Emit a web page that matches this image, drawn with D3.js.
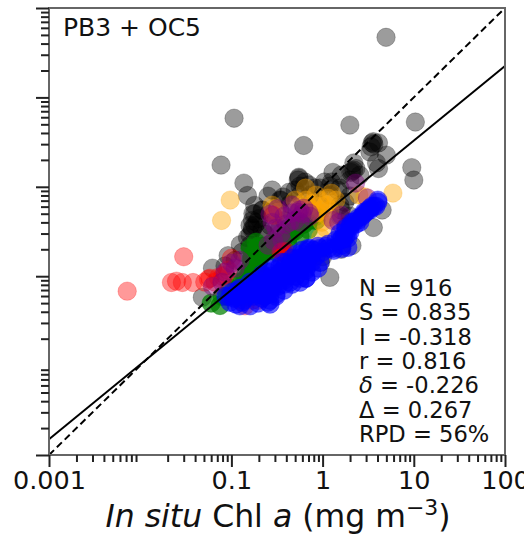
<!DOCTYPE html>
<html>
<head>
<meta charset="utf-8">
<script src="https://cdn.jsdelivr.net/npm/d3@7/dist/d3.min.js"></script>
<style>
  html, body { margin: 0; padding: 0; background: #fff; overflow: hidden; }
  text { font-family: "DejaVu Sans", sans-serif; fill: #111; }
</style>
</head>
<body>
<svg id="chart" width="524" height="534"></svg>
<script>
// values as [in situ, modelled], mg m-3
const blackPoints = [
  [4.96,47],[1.99,4.9],[10.4,5.3],[0.62,2.9],[0.107,5.85],[0.077,1.75],[0.137,1.1],[0.15,0.8],[0.18,0.5],
  [9.5,1.64],[10,1.19],[5,2.26],[4.1,1.6],[3.9,1.85],[3.5,3.1],[4.1,3.1],[3.3,2.45],[3.6,3.2],[3.4,2.8],[3.65,3],
  [2.2,1.85],[2.2,1.54],[2.05,1.45],[2.56,1.35],[1.3,1.45],[1.6,1.35],[1.25,1.13],[1.05,1.13],[0.55,1.28],[0.54,1.19],
  [0.71,1.05],[0.82,0.97],[0.93,0.97],[0.28,0.92],[0.43,0.87],[0.37,0.77],[0.35,0.71],[1.6,0.55],[4.5,0.55],[3.6,0.35],
  [2.1,0.22],[1,0.165],[1.2,0.097],[0.95,0.143],[1.6,0.2],[0.048,0.058],[0.062,0.123],[0.092,0.17],[0.125,0.225],[0.15,0.27],
  [0.172,0.5],[0.17,0.42],[0.17,0.345],[0.18,0.37],[0.16,0.29],[0.18,0.62],[0.2,0.44],[0.16,0.37],[0.17,0.33],[0.19,0.4],
  [0.22,0.55],[0.565,1.02],[0.64,1.13],[1.2,1.02],[1.55,0.97],[2,0.79],[0.265,0.37],[0.217,0.216],
  [0.38,0.42],[0.565,0.47],[0.935,0.62],[1.55,0.62],[2,0.47],[1.8,0.36],[0.34,0.71],[0.5,0.92],[0.11,0.151],[0.085,0.13],
  [0.252,0.786],[0.565,0.807],[0.727,0.807],[1.2,0.807],[1.47,0.917],[1.99,1.19],[0.55,1.25],
  [2.32,1.6],[2.1,1.5],[0.217,0.327],[0.16,0.222],[0.131,0.185],[0.217,0.548],[0.265,0.52],[0.341,0.548],
  [0.439,0.64],[0.34,0.345],[0.234,0.295],[1.75,0.673],[1.55,0.469]
];
const greenPoints = [
  [0.06,0.05],[0.075,0.047],[0.172,0.125],[0.172,0.176],[0.16,0.11],[0.19,0.21],[0.196,0.136],[0.18,0.16],[0.17,0.14],[0.19,0.19],
  [0.15,0.1],[0.13,0.085],[0.11,0.07],[0.09,0.06],[0.14,0.09],[0.2,0.15],[0.165,0.15],[0.2,0.2],[0.24,0.19],[0.27,0.23],
  [0.3,0.24],[0.36,0.2],[0.42,0.27],[0.5,0.32],[0.6,0.38],[0.7,0.33],[0.85,0.42],
  [0.0788,0.0597],[0.0965,0.0733],[0.118,0.0857],[0.144,0.105],[0.16,0.123],[0.177,0.143],[0.186,0.176],[0.196,0.216],[0.168,0.167],
  [0.186,0.123],[0.206,0.159],[0.217,0.195],[0.16,0.205],[0.186,0.24],[0.24,0.185],[0.265,0.195],[0.293,0.228],[0.341,0.24],
  [0.397,0.28],[0.462,0.31],[0.537,0.363],[0.625,0.382],[0.727,0.423],[0.847,0.469],[0.308,0.185],[0.417,0.228],[0.565,0.28]
];
const orangePoints = [
  [0.097,0.71],[0.078,0.42],[5.9,0.85],[0.65,0.97],[1.25,0.85],[0.29,0.57],[0.3,0.48],[0.5,0.71],[0.77,0.65],[0.97,0.55],
  [1.15,0.46],[0.95,0.27],[2.5,0.81],[2.9,0.77],[0.86,0.51],[0.7,0.6],
  [0.565,0.623],[0.658,0.709],[0.847,0.807],[0.935,0.709],[1.09,0.623],[1.2,0.548],[1.4,0.709],[0.727,0.577],[0.89,0.52],[1.15,0.747],
  [0.985,0.402],[1.09,0.345],[0.279,0.623],[0.324,0.52]
];
const redPoints = [
  [0.0072,0.068],[0.03,0.165],[0.022,0.085],[0.025,0.088],[0.029,0.085],[0.038,0.085],[0.051,0.086],[0.056,0.093],[0.072,0.097],
  [0.08,0.1],[0.085,0.103],[0.1,0.159],[0.124,0.054],[0.17,0.054],[0.37,0.185],[0.36,0.19],[0.38,0.18],[0.35,0.185],[0.39,0.19],[0.14,0.06],
  [0.0917,0.117],[0.0663,0.0857],[0.0583,0.095],[0.196,0.0539],[0.141,0.0466],[0.286,0.48]
];
const purplePoints = [
  [2.3,1.1],[3.1,0.75],[0.56,0.55],[0.46,0.51],[0.71,0.51],[1.6,0.48],[0.28,0.4],[0.29,0.25],[0.32,0.57],[0.35,0.3],
  [1.3,0.42],[0.1,0.14],[0.062,0.077],[0.6,0.5],[0.5,0.42],[0.4,0.38],[1.5,0.4],
  [0.462,0.623],[0.537,0.52],[0.625,0.577],[0.727,0.469],[0.439,0.402],[0.377,0.469],[0.565,0.402],[0.308,0.345],[0.359,0.253],
  [0.252,0.222],[0.265,0.494],[0.0788,0.0857],[0.085,0.111],[0.11,0.123],[0.124,0.151]
];
const bluePoints = [
  [0.087,0.0597],[0.0965,0.0597],[0.107,0.0567],[0.118,0.0597],[0.131,0.0628],[0.0965,0.0512],[0.112,0.0487],[0.131,0.0512],
  [0.1015,0.0661],[0.118,0.0697],[0.144,0.0661],[0.16,0.0628],[0.16,0.0733],[0.186,0.0697],[0.186,0.0813],[0.217,0.0813],
  [0.217,0.0697],[0.177,0.0597],[0.252,0.0661],[0.265,0.0772],[0.24,0.095],[0.279,0.1],[0.308,0.0902],[0.341,0.111],
  [0.377,0.123],[0.439,0.14],[0.486,0.14],[0.397,0.1],[0.462,0.111],[0.537,0.159],[0.595,0.176],[0.511,0.117],[0.625,0.14],
  [0.692,0.195],[0.765,0.176],[0.658,0.123],[0.324,0.0772],[0.439,0.0857],[0.565,0.095],[0.265,0.0539],[0.252,0.0512],
  [0.265,0.0628],[0.252,0.0733],[0.308,0.0628],[0.658,0.095],
  [0.935,0.205],[1.15,0.228],[1.63,0.266],[1.71,0.295],[1.4,0.253],[1.71,0.26],[1.99,0.345],[2.32,0.382],[2.7,0.469],
  [2.98,0.52],[3.3,0.548],[3.65,0.607],[4.04,0.673],[2.44,0.423],[2.84,0.494],[3.3,0.577],[2.09,0.402],[1.33,0.195],[1.63,0.205],[1.89,0.266],
  [0.124,0.0661],[0.137,0.0539],[0.152,0.0597],[0.168,0.0697],[0.177,0.0813],[0.196,0.0902],[0.196,0.0628],[0.217,0.1],[0.228,0.0813],[0.228,0.0597],
  [0.252,0.111],[0.265,0.0902],[0.279,0.0733],[0.293,0.117],[0.308,0.1],[0.341,0.129],[0.359,0.111],[0.377,0.0902],[0.397,0.143],[0.417,0.123],
  [0.439,0.105],[0.462,0.159],[0.486,0.129],[0.511,0.176],[0.537,0.143],[0.565,0.117],[0.595,0.195],[0.625,0.159],[0.658,0.136],[0.692,0.205],
  [0.727,0.167],[0.765,0.143],[0.805,0.195],[0.89,0.216],[0.847,0.167],[0.985,0.185],[1.09,0.216],
  [1.8,0.345],[1.99,0.363],[2.2,0.402],[2.44,0.446],[2.56,0.402],[2.84,0.52],[3.14,0.548],[3.47,0.607],[3.84,0.607],[4.04,0.709],
  [1.99,0.31],[1.8,0.28],[1.55,0.253],[1.55,0.303],[1.3,0.205],[1.63,0.222],[1.15,0.205],[1.89,0.21],
  [0.124,0.0466],[0.16,0.0466],[0.196,0.05],[0.265,0.0487],[0.217,0.0567],[0.308,0.0597],[0.377,0.0697],[0.462,0.0813],[0.565,0.0857],[0.658,0.095],
  [0.511,0.1],[0.765,0.111],[0.935,0.143],[0.89,0.123],[0.658,0.117],[0.377,0.0813],[0.324,0.1],[0.565,0.143],[0.439,0.123],[0.727,0.205],
  [0.565,0.159],[0.359,0.143],[0.279,0.123],[0.217,0.105],[0.16,0.0857],[0.124,0.0733]
];

const slope = 0.835;
const intercept = -0.318;
const xMajorTicks = [0.001, 0.1, 1, 10, 100];
const yMajorTicks = [0.001, 0.1, 1, 10, 100];
const decades = [0.001, 0.01, 0.1, 1, 10];
const minorSteps = [2, 3, 4, 5, 6, 7, 8, 9];
const statNames = ["N", "S", "I", "r", "δ", "Δ", "RPD"];
const statValues = ["916", "0.835", "-0.318", "0.816", "-0.226", "0.267", "56%"];

const margin = { top: 8, right: 19, bottom: 79, left: 49 };
const width = 524 - margin.left - margin.right;
const height = 534 - margin.top - margin.bottom;

const svg = d3.select("#chart");
const g = svg.append("g").attr("transform", `translate(${margin.left},${margin.top})`);

const x = d3.scaleLog().domain([0.001, 100]).range([0, width]);
const y = d3.scaleLog().domain([0.001, 100]).range([height, 0]);

const minorTicks = decades.flatMap(d => minorSteps.map(s => d * s));

// points, in drawing order
const series = [
  { points: blackPoints, fill: "#000000", alpha: 0.39 },
  { points: greenPoints, fill: "#008000", alpha: 0.72 },
  { points: orangePoints, fill: "#ffa500", alpha: 0.42 },
  { points: redPoints, fill: "#ff0000", alpha: 0.4 },
  { points: purplePoints, fill: "#800080", alpha: 0.42 },
  { points: bluePoints, fill: "#0000ff", alpha: 0.6 }
];

series.forEach(s => {
  g.append("g").selectAll("circle")
    .data(s.points)
    .join("circle")
    .attr("cx", d => x(d[0]))
    .attr("cy", d => y(d[1]))
    .attr("r", 9.2)
    .attr("fill", s.fill)
    .attr("fill-opacity", s.alpha)
    .attr("stroke", s.fill)
    .attr("stroke-opacity", s.alpha * 0.6)
    .attr("stroke-width", 1);
});

// 1:1 and fit lines
const lineEnds = [0.001, 100];
const line = d3.line().x(d => x(d[0])).y(d => y(d[1]));

g.append("path")
  .attr("d", line(lineEnds.map(v => [v, v])))
  .attr("fill", "none").attr("stroke", "#000").attr("stroke-width", 2).attr("stroke-dasharray", "7,4");

g.append("path")
  .attr("d", line(lineEnds.map(v => [v, Math.pow(10, slope * Math.log10(v) + intercept)])))
  .attr("fill", "none").attr("stroke", "#000").attr("stroke-width", 2);

// frame
g.append("rect")
  .attr("width", width).attr("height", height)
  .attr("fill", "none").attr("stroke", "#666").attr("stroke-width", 2);

// axes
function styleAxis(sel) {
  sel.select(".domain").remove();
  sel.selectAll("line").attr("stroke", "#222").attr("stroke-width", 2);
}

g.append("g").attr("transform", `translate(0,${height})`)
  .call(d3.axisBottom(x).tickValues(minorTicks).tickSize(7).tickFormat(""))
  .call(styleAxis);

const xMajor = g.append("g").attr("transform", `translate(0,${height})`)
  .call(d3.axisBottom(x).tickValues(xMajorTicks).tickSize(12).tickPadding(4).tickFormat(d => String(d)))
  .call(styleAxis);
xMajor.selectAll("text").attr("font-size", 25.5).attr("font-family", "DejaVu Sans").attr("fill", "#111");

g.append("g")
  .call(d3.axisLeft(y).tickValues(minorTicks).tickSize(8).tickFormat(""))
  .call(styleAxis);
g.append("g")
  .call(d3.axisLeft(y).tickValues(yMajorTicks).tickSize(13).tickFormat(""))
  .call(styleAxis);

// annotations
svg.append("text").attr("x", 63).attr("y", 36).attr("font-size", 25).text("PB3 + OC5");

const stats = svg.append("g").selectAll("text")
  .data(statNames)
  .join("text")
  .attr("x", 359)
  .attr("y", (d, i) => 296 + i * 24.3)
  .attr("font-size", 22.6);
stats.append("tspan").attr("font-style", d => d === "δ" ? "italic" : "normal").text(d => d);
stats.append("tspan").text((d, i) => " = " + statValues[i]);

// x label
const label = svg.append("text")
  .attr("x", 278).attr("y", 527)
  .attr("text-anchor", "middle")
  .attr("font-size", 31.5);
label.append("tspan").attr("font-style", "italic").text("In situ");
label.append("tspan").text(" Chl ");
label.append("tspan").attr("font-style", "italic").text("a");
label.append("tspan").text(" (mg m");
label.append("tspan").attr("dy", -12).attr("font-size", 22).text("−3");
label.append("tspan").attr("dy", 12).text(")");
</script>
</body>
</html>
